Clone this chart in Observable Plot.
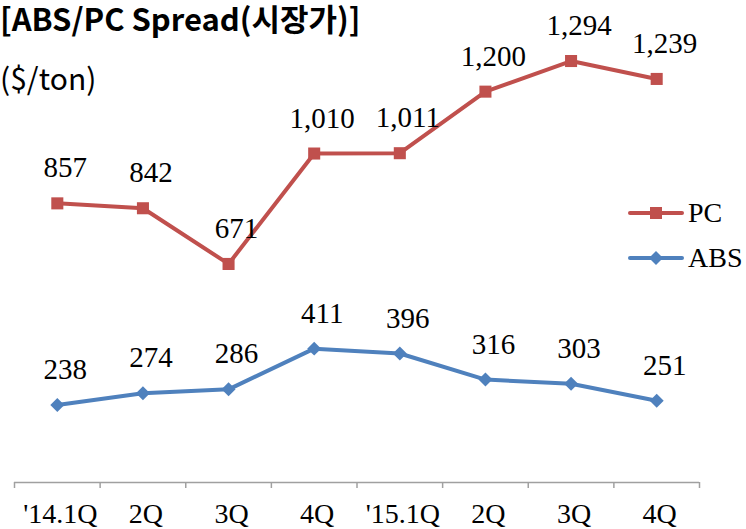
<!DOCTYPE html>
<html>
<head>
<meta charset="utf-8">
<script src="https://cdn.jsdelivr.net/npm/d3@7"></script>
<script src="https://cdn.jsdelivr.net/npm/@observablehq/plot@0.6"></script>
<style>
  html, body { margin: 0; padding: 0; background: #fff; }
  #wrap { position: relative; width: 746px; height: 529px; overflow: hidden; }
  #title { position: absolute; left: 0; top: 1px; line-height: 1.1; font-family: "Noto Sans CJK KR", "Noto Sans", sans-serif; font-weight: 700; font-size: 31px; color: #000; white-space: nowrap; }
  #unit { position: absolute; left: 0; top: 62px; line-height: 1; font-family: "Noto Sans CJK KR", "Noto Sans", sans-serif; font-size: 30px; color: #000; white-space: nowrap; }
  #legend { position: absolute; left: 628px; top: 196px; font-family: "Liberation Serif", serif; font-size: 28px; color: #000; }
  .lg { display: flex; align-items: center; height: 34px; margin-bottom: 11px; }
  .lg svg { margin-right: 4px; }
</style>
</head>
<body>
<div id="wrap">
  <div id="chart"></div>
  <div id="title">[ABS/PC Spread(시장가)]</div>
  <div id="unit">($/ton)</div>
  <div id="legend"></div>
</div>
<script>
const categories = ["'14.1Q", "2Q", "3Q", "4Q", "'15.1Q", "2Q", "3Q", "4Q"];
const pcValues = [857, 842, 671, 1010, 1011, 1200, 1294, 1239];
const absValues = [238, 274, 286, 411, 396, 316, 303, 251];
const seriesNames = ["PC", "ABS"];
const seriesColors = ["#C0504D", "#4F81BD"];
const seriesSymbols = ["square", "diamond2"];

const idx = categories.map((_, i) => i);
const pcData = idx.map(i => ({i, v: pcValues[i]}));
const absData = idx.map(i => ({i, v: absValues[i]}));
const boundaries = d3.range(categories.length + 1).map(i => i - 0.5);
const fmt = d3.format(",");

const labelFont = "'Liberation Serif', 'DejaVu Serif', serif";

const plot = Plot.plot({
  width: 746,
  height: 529,
  marginTop: 26,
  marginBottom: 47,
  marginLeft: 14,
  marginRight: 47,
  style: { background: "transparent", overflow: "visible" },
  x: { type: "linear", domain: [-0.5, categories.length - 0.5], axis: null, label: null },
  y: { domain: [0, 1400], axis: null },
  marks: [
    Plot.ruleY([0], { stroke: "#a0a0a0", strokeWidth: 1.5 }),
    Plot.axisX({ ticks: boundaries, tickFormat: () => "", tickSize: 6, stroke: "#a0a0a0", strokeWidth: 1.5, label: null }),
    Plot.axisX({ ticks: idx, tickFormat: i => categories[i], tickSize: 0, tickPadding: 21, dx: 3, label: null,
      fontSize: 28, fontFamily: labelFont, fill: "#000" }),
    Plot.line(pcData, { x: "i", y: "v", stroke: seriesColors[0], strokeWidth: 4 }),
    Plot.dot(pcData, { x: "i", y: "v", symbol: seriesSymbols[0], r: 6.8, fill: seriesColors[0], stroke: "none" }),
    Plot.line(absData, { x: "i", y: "v", stroke: seriesColors[1], strokeWidth: 4 }),
    Plot.dot(absData, { x: "i", y: "v", symbol: seriesSymbols[1], r: 6.3, fill: seriesColors[1], stroke: "none" }),
    Plot.text(pcData, { x: "i", y: "v", text: d => fmt(d.v), dy: -26, dx: 8, lineAnchor: "bottom",
      fontSize: 29, fontFamily: labelFont, fill: "#000" }),
    Plot.text(absData, { x: "i", y: "v", text: d => fmt(d.v), dy: -26, dx: 8, lineAnchor: "bottom",
      fontSize: 29, fontFamily: labelFont, fill: "#000" })
  ]
});
document.getElementById("chart").appendChild(plot);

// legend
const legend = document.getElementById("legend");
seriesNames.forEach((name, k) => {
  const row = document.createElement("div");
  row.className = "lg";
  const sym = d3.symbol(k === 0 ? d3.symbolSquare : d3.symbolDiamond2, k === 0 ? 145 : 125)();
  row.innerHTML = `<svg width="56" height="20"><line x1="2" x2="54" y1="10" y2="10" stroke="${seriesColors[k]}" stroke-width="4" stroke-linecap="round"/><path transform="translate(28,10)" d="${sym}" fill="${seriesColors[k]}"/></svg><span>${name}</span>`;
  legend.appendChild(row);
});
</script>
</body>
</html>
